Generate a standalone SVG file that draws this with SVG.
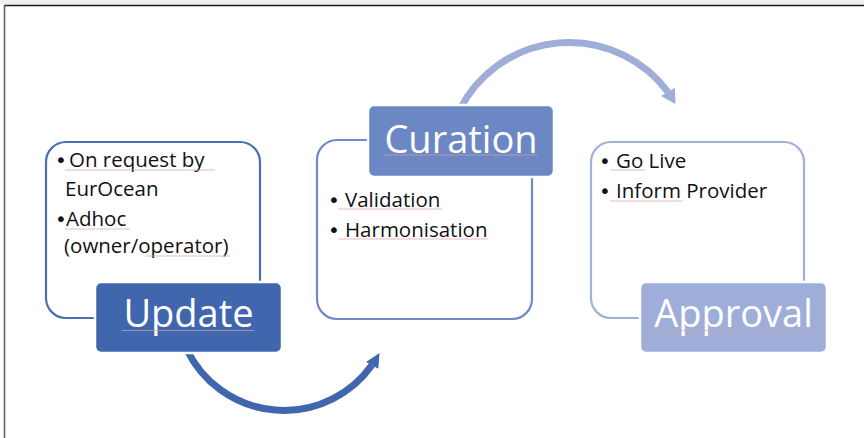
<svg xmlns="http://www.w3.org/2000/svg" width="864" height="438" viewBox="0 0 864 438">
  <style>
    .outline { fill: #ffffff; stroke-width: 2.2; }
    .label { stroke: #ffffff; stroke-width: 2.5; }
    .title { font-family: "Open Sans", "Noto Sans", sans-serif; font-size: 38px; fill: #ffffff; text-anchor: middle; }
    .item { font-family: "Open Sans", "Noto Sans", sans-serif; font-size: 20.5px; fill: #111111; }
    .bul { font-family: "DejaVu Sans", sans-serif; font-size: 20px; fill: #111111; }
    .sp { stroke: #d8a0a0; stroke-width: 1; opacity: 0.7; fill: none; }
    .arrow { fill: none; stroke-width: 7; }
  </style>
  <rect x="0" y="0" width="864" height="438" fill="#ffffff"/>
  <rect x="0" y="0" width="864" height="4.5" fill="#f0f0f0"/>
  <line x1="4" y1="5.5" x2="864" y2="5.5" stroke="#1a1a1a" stroke-width="1.6"/>
  <line x1="4.5" y1="5" x2="4.5" y2="438" stroke="#606060" stroke-width="1.6"/>

  <g id="connectors">
    <path class="arrow" stroke="#4066ae" d="M 187 350 A 108 108 0 0 0 372 365"/>
    <polygon fill="#4066ae" points="379.5,353 378.3,368.7 366.1,361.9"/>
    <path class="arrow" stroke="#9eaed8" d="M 459.5 110 A 123 123 0 0 1 668 92"/>
    <polygon fill="#9eaed8" points="675.5,104 674.8,87.8 661,96"/>
  </g>

  <g id="update">
    <rect class="outline" x="46" y="142" width="214" height="176" rx="20" stroke="#4a6fb5"/>
    <text class="bul" x="55" y="167">•</text>
    <text class="item" x="69" y="167">On request by</text>
    <text class="item" x="65" y="196">EurOcean</text>
    <text class="bul" x="55" y="226">•</text>
    <text class="item" x="66" y="226">Adhoc</text>
    <text class="item" x="64" y="253">(owner/operator)</text>
    <line class="sp" x1="65" y1="170" x2="215" y2="170"/>
    <line class="sp" x1="65" y1="229" x2="130" y2="229"/>
    <line class="sp" x1="145" y1="256" x2="230" y2="256"/>
    <rect class="label" x="95" y="282" width="187" height="71" rx="6" fill="#4066ae"/>
    <text class="title" x="188.5" y="327">Update</text>
    <line class="sp" x1="122" y1="330.5" x2="254" y2="330.5"/>
  </g>

  <g id="curation">
    <rect class="outline" x="317" y="140" width="215" height="179" rx="20" stroke="#6f8ac6"/>
    <text class="bul" x="328" y="207">•</text>
    <text class="item" x="345" y="207">Validation</text>
    <text class="bul" x="328" y="237">•</text>
    <text class="item" x="345" y="237">Harmonisation</text>
    <line class="sp" x1="338" y1="209" x2="442" y2="209"/>
    <line class="sp" x1="338" y1="239" x2="488" y2="239"/>
    <rect class="label" x="368" y="105" width="186" height="72" rx="6" fill="#6b87c4"/>
    <text class="title" x="461" y="153">Curation</text>
    <line class="sp" x1="383" y1="155" x2="538" y2="155"/>
  </g>

  <g id="approval">
    <rect class="outline" x="591" y="142" width="213" height="176" rx="20" stroke="#a3b1d9"/>
    <text class="bul" x="599" y="168">•</text>
    <text class="item" x="616" y="168">Go Live</text>
    <text class="bul" x="599" y="198">•</text>
    <text class="item" x="616" y="198">Inform Provider</text>
    <line class="sp" x1="610" y1="170" x2="645" y2="170"/>
    <line class="sp" x1="610" y1="201" x2="683" y2="201"/>
    <rect class="label" x="640" y="282" width="187" height="71" rx="6" fill="#9eaed8"/>
    <text class="title" x="733.5" y="327">Approval</text>
    <line class="sp" x1="652" y1="330.5" x2="813" y2="330.5"/>
  </g>
</svg>
